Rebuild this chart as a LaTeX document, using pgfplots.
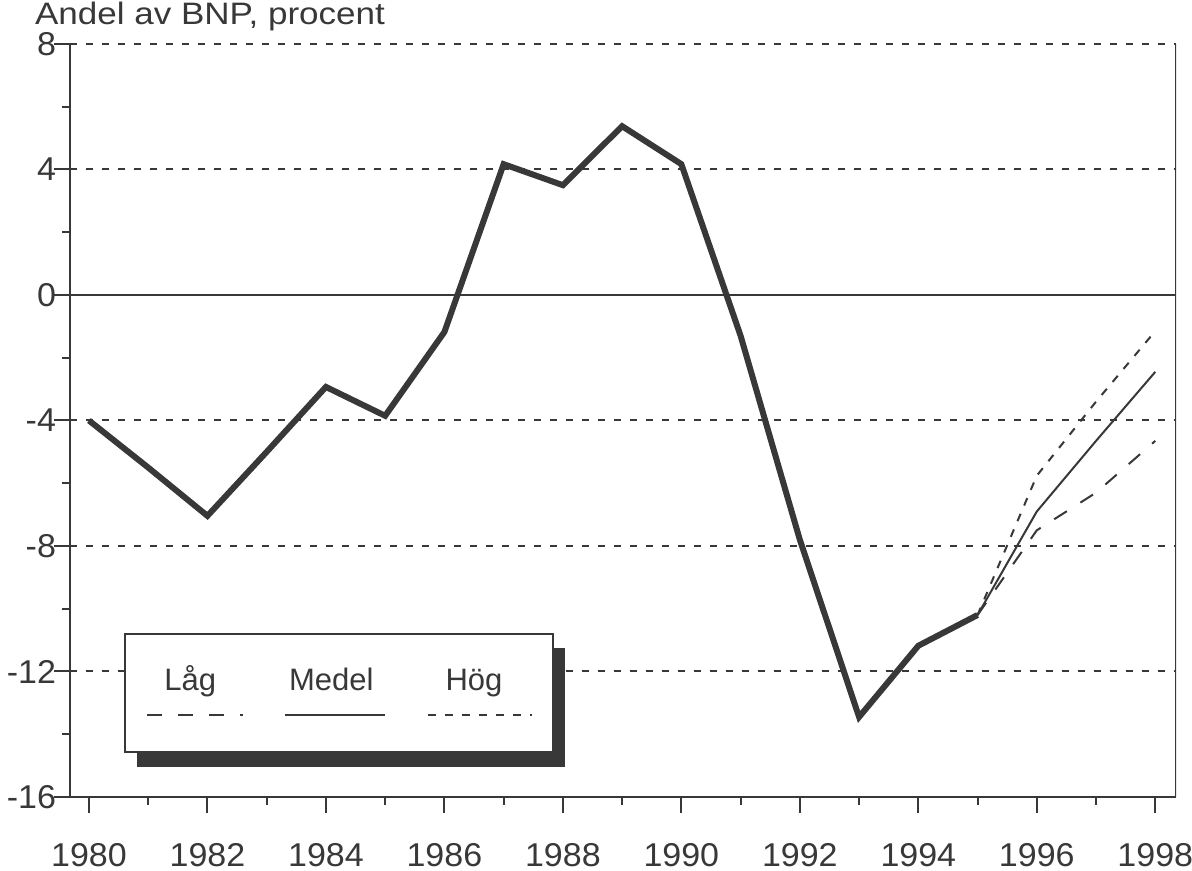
\documentclass[border=0pt]{standalone}
\usepackage{fontspec}
\setmainfont{Liberation Sans}
\newfontfamily\widefont[FakeStretch=1.03]{Liberation Sans}
\newfontfamily\titlefont[FakeStretch=1.13]{Liberation Sans}
\usepackage{pgfplots}
\pgfplotsset{compat=1.18}
\definecolor{ink}{HTML}{383838}
\pgfplotstableread{
year val
1980 -4.0
1981 -5.5
1982 -7.04
1983 -5.0
1984 -2.93
1985 -3.85
1986 -1.18
1987 4.17
1988 3.50
1989 5.38
1990 4.17
1991 -1.3
1992 -7.8
1993 -13.45
1994 -11.18
1995 -10.2
}\hist
\pgfplotstableread{
year lag medel hog
1995 -10.2 -10.2 -10.2
1996 -7.5 -6.9 -5.76
1997 -6.3 -4.65 -3.4
1998 -4.65 -2.45 -1.15
}\prog
\tikzset{
  lagstyle/.style={ink, line width=1pt, dash pattern=on 7.5pt off 8pt},
  medelstyle/.style={ink, line width=1pt},
  hogstyle/.style={ink, line width=1pt, dash pattern=on 4pt off 4.5pt},
}
\begin{document}
\begin{tikzpicture}
\begin{axis}[name=ax, scale only axis, width=553pt, height=376.5pt,
  xmin=1979.68, xmax=1998.35, ymin=-16, ymax=8,
  axis x line*=bottom, axis y line*=left,
  axis line style={ink, line width=1.1pt, -},
  xtick={1980,1982,...,1998}, minor xtick={1981,1983,...,1997},
  ytick={-16,-12,-8,-4,4,8}, minor ytick={-14,-10,-6,-2,2,6},
  extra y ticks={0},
  extra y tick style={grid=major, major grid style={ink, line width=0.8pt, solid}},
  tick align=outside,
  major tick length=8pt, minor tick length=4pt,
  tick style={ink, line width=1pt},
  ymajorgrids,
  major grid style={ink, line width=1pt, dash pattern=on 3.5pt off 4.5pt},
  /pgf/number format/assume math mode=true,
  /pgf/number format/1000 sep={},
  x tick label style={font=\widefont\fontsize{16.5}{20}\selectfont, text=ink},
  y tick label style={font=\widefont\fontsize{16.5}{20}\selectfont, text=ink},
  xticklabel shift=11.5pt,
  yticklabel shift=-4.5pt,
]
\addplot[ink, line width=3pt, line join=miter] table[x=year, y=val] {\hist};
\addplot[lagstyle] table[x=year, y=lag] {\prog};
\addplot[medelstyle] table[x=year, y=medel] {\prog};
\addplot[hogstyle] table[x=year, y=hog] {\prog};
% legend box
\fill[ink] (axis cs:1980.81,-11.25) rectangle (axis cs:1988.04,-15.04);
\filldraw[fill=white, draw=ink, line width=1pt] (axis cs:1980.61,-10.80) rectangle (axis cs:1987.84,-14.57);
\node[anchor=base, font=\fontsize{15.5}{19}\selectfont, text=ink] at (axis cs:1981.71,-12.62) {Låg};
\node[anchor=base, font=\fontsize{15.5}{19}\selectfont, text=ink] at (axis cs:1984.09,-12.62) {Medel};
\node[anchor=base, font=\fontsize{15.5}{19}\selectfont, text=ink] at (axis cs:1986.50,-12.62) {Hög};
\draw[lagstyle] (axis cs:1980.98,-13.39) -- (axis cs:1982.60,-13.39);
\draw[medelstyle] (axis cs:1983.31,-13.39) -- (axis cs:1985.0,-13.39);
\draw[hogstyle] (axis cs:1985.73,-13.39) -- (axis cs:1987.48,-13.39);
% right frame line
\draw[ink, line width=1.1pt] (rel axis cs:1,0) -- (rel axis cs:1,1);
\end{axis}
\node[anchor=base west, font=\titlefont\fontsize{15.5}{18}\selectfont, text=ink] at ([shift={(-21pt,9.5pt)}]ax.north west) {Andel av BNP, procent};
\pgfresetboundingbox
\path[use as bounding box] ([shift={(-35pt,-37pt)}]ax.south west) rectangle ([shift={(8pt,22pt)}]ax.north east);
\end{tikzpicture}
\end{document}
